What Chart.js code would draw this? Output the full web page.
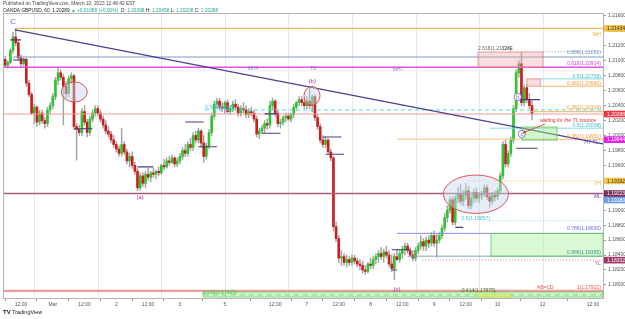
<!DOCTYPE html>
<html>
<head>
<meta charset="utf-8">
<script src="https://cdn.jsdelivr.net/npm/chart.js@4.4.0/dist/chart.umd.min.js"></script>
<style>
  html, body { margin: 0; padding: 0; background: #fff; }
  #wrap { width: 625px; height: 319px; }
</style>
</head>
<body>
<div id="wrap"><canvas id="chart" width="625" height="319"></canvas></div>
<script>
// GBPUSD 1h candles, Feb 28 06:00 .. Mar 10 13:00 (bar index = hourly slot, weekend removed)
const opens = [
  1.2102,1.2094,1.2098,1.2114,1.2132,1.2124,1.2104,1.2096,1.2102,1.2070,
  1.2055,1.2030,1.2038,1.2018,1.2030,1.2020,1.2016,1.2034,1.2040,1.2052,
  1.2074,1.2084,1.2078,1.2066,1.2056,1.2076,1.2080,1.2012,1.2008,1.2004,
  1.2032,1.2018,1.2004,1.2022,1.2030,1.2036,1.2030,1.2022,1.2014,1.2006,
  1.2002,1.1994,1.1988,1.1982,1.1976,1.1988,1.1978,1.1966,1.1972,1.1960,
  1.1952,1.1930,1.1946,1.1936,1.1948,1.1944,1.1950,1.1948,1.1952,1.1950,
  1.1960,1.1958,1.1966,1.1964,1.1970,1.1962,1.1966,1.1972,1.1980,1.1976,
  1.1988,1.1984,1.2000,1.1994,1.2006,1.1990,1.1972,1.1986,1.2004,1.2026,
  1.2042,1.2046,1.2038,1.2036,1.2044,1.2032,1.2036,1.2042,1.2038,1.2030,
  1.2036,1.2034,1.2028,1.2032,1.2030,1.2022,1.2002,1.2006,1.2010,1.2016,
  1.2014,1.2040,1.2046,1.2030,1.2016,1.2018,1.2024,1.2026,1.2022,1.2028,
  1.2038,1.2044,1.2048,1.2044,1.2040,1.2046,1.2040,1.2052,1.2024,1.2012,
  1.1994,1.1988,1.1994,1.1978,1.1970,1.1878,1.1862,1.1836,1.1838,1.1830,
  1.1834,1.1830,1.1836,1.1832,1.1828,1.1826,1.1820,1.1818,1.1828,1.1826,
  1.1834,1.1838,1.1842,1.1838,1.1844,1.1840,1.1828,1.1822,1.1838,1.1834,
  1.1842,1.1848,1.1852,1.1846,1.1840,1.1836,1.1846,1.1852,1.1858,1.1852,
  1.1860,1.1856,1.1866,1.1856,1.1860,1.1866,1.1876,1.1890,1.1900,1.1914,
  1.1884,1.1916,1.1922,1.1912,1.1920,1.1926,1.1906,1.1916,1.1924,1.1916,
  1.1920,1.1922,1.1930,1.1918,1.1912,1.1920,1.1918,1.1926,1.1946,1.1988,
  1.1962,1.1976,1.1994,1.2036,1.2084,1.2096,1.2044,1.2064,1.2048,1.2040
];
const highs = [
  1.2106,1.2100,1.2116,1.2138,1.2143,1.2128,1.2108,1.2104,1.2104,1.2074,
  1.2058,1.2042,1.2040,1.2034,1.2034,1.2024,1.2038,1.2044,1.2056,1.2078,
  1.2090,1.2088,1.2082,1.2072,1.2080,1.2084,1.2082,1.2016,1.2014,1.2036,
  1.2040,1.2022,1.2026,1.2034,1.2040,1.2040,1.2034,1.2026,1.2020,1.2012,
  1.2006,1.2000,1.1992,1.1986,1.2010,1.1992,1.1982,1.1976,1.1978,1.1964,
  1.1956,1.1950,1.1950,1.1952,1.1956,1.1952,1.1956,1.1954,1.1958,1.1962,
  1.1968,1.1970,1.1972,1.1974,1.1972,1.1970,1.1976,1.1984,1.1988,1.1992,
  1.1996,1.2004,1.2006,1.2010,1.2008,1.2000,1.1990,1.2008,1.2030,1.2046,
  1.2050,1.2050,1.2044,1.2046,1.2048,1.2040,1.2046,1.2048,1.2042,1.2040,
  1.2044,1.2040,1.2036,1.2038,1.2034,1.2026,1.2010,1.2014,1.2020,1.2022,
  1.2046,1.2050,1.2048,1.2034,1.2022,1.2026,1.2030,1.2030,1.2030,1.2042,
  1.2046,1.2052,1.2052,1.2050,1.2052,1.2065,1.2054,1.2054,1.2028,1.2016,
  1.2000,1.1998,1.1996,1.1982,1.1972,1.1884,1.1866,1.1846,1.1842,1.1840,
  1.1838,1.1840,1.1840,1.1836,1.1834,1.1832,1.1826,1.1830,1.1836,1.1838,
  1.1842,1.1846,1.1850,1.1848,1.1852,1.1846,1.1840,1.1842,1.1848,1.1846,
  1.1852,1.1856,1.1856,1.1850,1.1846,1.1850,1.1856,1.1866,1.1862,1.1864,
  1.1866,1.1870,1.1872,1.1868,1.1870,1.1880,1.1896,1.1906,1.1918,1.1918,
  1.1920,1.1930,1.1934,1.1926,1.1936,1.1932,1.1920,1.1928,1.1930,1.1924,
  1.1926,1.1934,1.1934,1.1922,1.1924,1.1926,1.1930,1.1950,1.1992,1.1994,
  1.1980,1.1998,1.2040,1.2088,1.2100,1.2111,1.2068,1.2068,1.2056,1.2046
];
const lows = [
  1.2092,1.2090,1.2096,1.2110,1.2120,1.2100,1.2092,1.2094,1.2066,1.2052,
  1.2028,1.2016,1.2012,1.2014,1.2016,1.2010,1.2012,1.2028,1.2036,1.2048,
  1.2068,1.2074,1.2014,1.2050,1.2052,1.2070,1.2008,1.1967,1.2000,1.2000,
  1.2014,1.1998,1.2000,1.2018,1.2026,1.2026,1.2018,1.2010,1.2002,1.1998,
  1.1990,1.1984,1.1978,1.1972,1.1972,1.1974,1.1962,1.1958,1.1956,1.1948,
  1.1926,1.1927,1.1932,1.1930,1.1940,1.1938,1.1944,1.1942,1.1946,1.1948,
  1.1954,1.1956,1.1960,1.1962,1.1958,1.1958,1.1962,1.1968,1.1972,1.1972,
  1.1980,1.1980,1.1990,1.1990,1.1984,1.1964,1.1968,1.1982,1.2000,1.2022,
  1.2036,1.2034,1.2032,1.2030,1.2030,1.2028,1.2032,1.2034,1.2026,1.2026,
  1.2030,1.2024,1.2024,1.2026,1.2018,1.1998,1.1996,1.2002,1.2004,1.2008,
  1.2010,1.2034,1.2026,1.2012,1.2010,1.2014,1.2018,1.2020,1.2018,1.2024,
  1.2034,1.2040,1.2040,1.2036,1.2036,1.2036,1.2032,1.2020,1.2008,1.1990,
  1.1984,1.1984,1.1976,1.1966,1.1872,1.1858,1.1830,1.1826,1.1826,1.1824,
  1.1826,1.1826,1.1828,1.1824,1.1820,1.1816,1.1814,1.1816,1.1822,1.1822,
  1.1828,1.1830,1.1834,1.1830,1.1836,1.1824,1.1818,1.1807,1.1832,1.1830,
  1.1836,1.1840,1.1842,1.1838,1.1832,1.1832,1.1842,1.1848,1.1846,1.1846,
  1.1850,1.1852,1.1852,1.1837,1.1856,1.1862,1.1872,1.1884,1.1896,1.1880,
  1.1880,1.1910,1.1908,1.1906,1.1914,1.1902,1.1902,1.1910,1.1912,1.1910,
  1.1914,1.1918,1.1914,1.1904,1.1908,1.1912,1.1914,1.1922,1.1942,1.1958,
  1.1958,1.1972,1.1990,1.2032,1.2078,1.2040,1.2040,1.2044,1.2036,1.2021
];
const closes = [
  1.2094,1.2098,1.2114,1.2132,1.2124,1.2104,1.2096,1.2102,1.2070,1.2055,
  1.2030,1.2038,1.2018,1.2030,1.2020,1.2016,1.2034,1.2040,1.2052,1.2074,
  1.2084,1.2078,1.2066,1.2056,1.2076,1.2080,1.2012,1.2008,1.2004,1.2032,
  1.2018,1.2004,1.2022,1.2030,1.2036,1.2030,1.2022,1.2014,1.2006,1.2002,
  1.1994,1.1988,1.1982,1.1976,1.1988,1.1978,1.1966,1.1972,1.1960,1.1952,
  1.1930,1.1946,1.1936,1.1948,1.1944,1.1950,1.1948,1.1952,1.1950,1.1960,
  1.1958,1.1966,1.1964,1.1970,1.1962,1.1966,1.1972,1.1980,1.1976,1.1988,
  1.1984,1.2000,1.1994,1.2006,1.1990,1.1972,1.1986,1.2004,1.2026,1.2042,
  1.2046,1.2038,1.2036,1.2044,1.2032,1.2036,1.2042,1.2038,1.2030,1.2036,
  1.2034,1.2028,1.2032,1.2030,1.2022,1.2002,1.2006,1.2010,1.2016,1.2014,
  1.2040,1.2046,1.2030,1.2016,1.2018,1.2024,1.2026,1.2022,1.2028,1.2038,
  1.2044,1.2048,1.2044,1.2040,1.2046,1.2040,1.2052,1.2024,1.2012,1.1994,
  1.1988,1.1994,1.1978,1.1970,1.1878,1.1862,1.1836,1.1838,1.1830,1.1834,
  1.1830,1.1836,1.1832,1.1828,1.1826,1.1820,1.1818,1.1828,1.1826,1.1834,
  1.1838,1.1842,1.1838,1.1844,1.1840,1.1828,1.1822,1.1838,1.1834,1.1842,
  1.1848,1.1852,1.1846,1.1840,1.1836,1.1846,1.1852,1.1858,1.1852,1.1860,
  1.1856,1.1866,1.1856,1.1860,1.1866,1.1876,1.1890,1.1900,1.1914,1.1884,
  1.1916,1.1922,1.1912,1.1920,1.1926,1.1906,1.1916,1.1924,1.1916,1.1920,
  1.1922,1.1930,1.1918,1.1912,1.1920,1.1918,1.1926,1.1946,1.1988,1.1962,
  1.1976,1.1994,1.2036,1.2084,1.2096,1.2044,1.2064,1.2048,1.2040,1.2029
];

// time axis labels (bar index -> text) and session breaks
const xTickIdx = [6, 18, 30, 42, 54, 66, 83, 102, 114, 126, 138, 150, 162, 174, 186, 203, 222];
const xTickText = ["12:00","Mar","12:00","2","12:00","3","5","12:00","7","12:00","8","12:00","9","12:00","10","12","12:00"];
const sessionIdx = [11, 35, 59, 83, 107, 131, 155, 179, 203];

// horizontal levels drawn on the chart
const levelPrice = [1.21434, 1.21051, 1.21123, 1.20914, 1.20758, 1.20660, 1.20342, 1.20319, 1.20288,
                    1.20098, 1.19951, 1.19944, 1.19392, 1.19223, 1.18857, 1.18690, 1.18385, 1.18332,
                    1.17921, 1.17866];
const levelFrom  = [4, 3, 203, -1, 202, 202, 75.5, 198, -1,
                    183, 148, 196, 175, -1, 183, 148, 152, 157.5,
                    -1, 75];

// trend line, pivot segments, arrow
const tlIdx = [3.7, 225.8];
const tlPrice = [1.21413, 1.19888];
const pivFrom  = [2, 3, 26, 50, 68, 73, 98, 97, 120, 121, 146, 146, 170, 193, 194];
const pivTo    = [6, 8, 33, 56, 75, 80, 103, 104, 127, 128, 153, 148, 173, 201, 202];
const pivPrice = [1.2128, 1.2101, 1.2009, 1.1958, 1.2018, 1.1985, 1.2029, 1.2003, 1.1998, 1.1975,
                  1.1847, 1.1820, 1.1877, 1.1983, 1.2048];
const arrowIdx = [204, 195.4];
const arrowPrice = [1.20154, 1.20034];

// boxes: from/to bar index, top/bottom price
const boxFrom = [178.6, 197, 195.2, 183.5, 74.7, 178.6];
const boxTo = [203.1, 202.1, 208.4, 225.8, 225.8, 190.7];
const boxTop = [1.21118, 1.20758, 1.20114, 1.18690, 1.17905, 1.17878];
const boxBottom = [1.20914, 1.20660, 1.19940, 1.18385, 1.17838, 1.17838];

// ellipses (centre) and circled wave marks
const ellIdx = [26.1, 115.9, 177.8];
const ellPrice = [1.20583, 1.20532, 1.19214];
const circIdx = [193.6, 195.1];
const circPrice = [1.20516, 1.20020];
const circText = ["b", "c"];

// text notes
const noteText = ["C", "(a)", "(b)", "(c)", "MH4", "TO", "MH7", "2.618(1.21123)", "D=E",
  "waiting for the TL bounce", "0.5(1.20342)", "0.886(1.21051)", "0.618(1.20914)", "0.5(1.20758)",
  "0.382(1.20660)", "0.382(1.20319)", "0.5(1.20098)", "0.382(1.19951)", "HT TL", "WH", "YH", "WL",
  "0.5(1.18857)", "0.786(1.18690)", "0.886(1.18385)", "YL", "AB=CD", "1(1.17921)",
  "1.618(1.17905)", "-0.414(1.17875)"];
const noteIdx = [3, 51, 116, 148, 93.6, 116.3, 148.4, 178.6, 189.9,
  202, 75.5, 225, 225, 225, 225, 225, 225, 225, 224, 225, 225, 225,
  183.1, 225, 225, 225, 204, 225, 74.7, 171.8];
const notePrice = [1.2152, 1.1917, 1.2072, 1.1794, 1.2089, 1.2090, 1.2088, 1.21158, 1.21158,
  1.20194, 1.20368, 1.21105, 1.20957, 1.20783, 1.20690, 1.20368, 1.20127, 1.19984, 1.19900,
  1.21346, 1.19351, 1.19177, 1.18883, 1.18749, 1.18427, 1.18280, 1.17959, 1.17959,
  1.17892, 1.17919];

// price tags on the right axis
const tagPrice = [1.21434, 1.20288, 1.19944, 1.19392, 1.19223, 1.19180, 1.18332];

// ---------- styles ----------
const FONT = '"Liberation Sans", Arial, sans-serif';
const levelLook = [
  ['#f3ad3d', 1, []], ['#7a9cc6', 1, []], ['#9a9a9a', 1, [1, 2]], ['#e84ee8', 1.4, []],
  ['#8ad8e4', 1, []], ['#f5b867', 1, []], ['#4fd7ea', 1, [4, 3]], ['#f5b867', 1, []],
  ['#f59a9a', 1, []], ['#8ad8e4', 1, []], ['#f5c27a', 1, []], ['#e84ee8', 1, [1, 2]],
  ['#f0c040', 1, [1, 2]], ['#a8607e', 1.4, []], ['#6fe0ef', 1, [1, 2]], ['#8a8ef0', 1, []],
  ['#7aa6b8', 1, []], ['#d889a8', 1, [1, 2]], ['#f59a9a', 2.4, []], ['#3cb043', 1, [5, 4]]
];
const boxLook = [
  ['rgba(240,160,160,0.35)', 'rgba(225,120,120,0.7)'],
  ['rgba(240,160,160,0.35)', 'rgba(225,120,120,0.7)'],
  ['rgba(150,235,140,0.45)', 'rgba(90,200,90,0.8)'],
  ['rgba(170,240,160,0.45)', 'rgba(90,200,90,0.8)'],
  ['rgba(170,240,160,0.55)', 'rgba(90,200,90,0.7)'],
  ['rgba(225,240,110,0.7)', 'rgba(200,220,80,0.8)']
];
const ellLook = [[13, 10], [8, 9.3], [32.5, 19.2]];
// colour, size, align, italic
const noteLook = [
  ['#5b6bd6', 8, 'center'], ['#b02ab0', 6, 'center'], ['#b02ab0', 6, 'center'], ['#b02ab0', 6, 'center'],
  ['#8a7ad8', 5, 'center'], ['#8a7ad8', 5, 'center'], ['#8a7ad8', 5, 'center'],
  ['#666', 5, 'left'], ['#666', 5, 'center'],
  ['#e03030', 5, 'left', true], ['#3cc4d8', 5, 'left'],
  ['#6a8fc0', 5, 'right'], ['#e040e0', 5, 'right'], ['#3cc4d8', 5, 'right'],
  ['#f0a030', 5, 'right'], ['#f0a030', 5, 'right'], ['#3cc4d8', 5, 'right'], ['#f0a030', 5, 'right'],
  ['#6a5acd', 5, 'right'], ['#e8b030', 5, 'right'], ['#e8b030', 5, 'right'], ['#7a4a9a', 5, 'right'],
  ['#3cc4d8', 5, 'right'], ['#6a70e0', 5, 'right'], ['#3fa08a', 5, 'right'], ['#b05080', 5, 'right'],
  ['#f05050', 5, 'center'], ['#f05050', 5, 'right'], ['#5cc05c', 5, 'left'], ['#3a7a3a', 5, 'left']
];
const tagLook = [
  ['#f5c143', '#333'], ['#f23645', '#fff'], ['#e91ee9', '#fff'], ['#f5c84c', '#333'],
  ['#7b2d5a', '#fff'], ['#6d9be8', '#fff'], ['#9b3665', '#fff']
];

const xMin = -0.8, xMax = 225.8, yMin = 1.17825, yMax = 1.2164;

// ---------- datasets ----------
const wickData = highs.map((h, i) => ({ x: i, y: [lows[i], h] }));
const bodyData = opens.map((o, i) => ({ x: i, y: [o, closes[i]] }));
const bodyColors = opens.map((o, i) => closes[i] >= o ? '#2fc42f' : '#cc1e1e');

const levelSets = levelPrice.map((p, k) => ({
  type: 'line',
  data: [{ x: levelFrom[k], y: p }, { x: xMax, y: p }],
  borderColor: levelLook[k][0], borderWidth: levelLook[k][1], borderDash: levelLook[k][2],
  pointRadius: 0, order: 3
}));

const pivData = [];
pivFrom.forEach((a, k) => {
  pivData.push({ x: a, y: pivPrice[k] }, { x: pivTo[k], y: pivPrice[k] }, { x: pivTo[k], y: null });
});

const datasets = [
  { type: 'line', data: [{ x: tlIdx[0], y: tlPrice[0] }, { x: tlIdx[1], y: tlPrice[1] }],
    borderColor: '#4b3f8f', borderWidth: 1.2, pointRadius: 0, order: 1 },
  { type: 'line', data: pivData, borderColor: '#4a3a80', borderWidth: 1.1, pointRadius: 0,
    spanGaps: false, order: 1 },
  ...levelSets,
  { type: 'bar', data: bodyData, backgroundColor: bodyColors, barThickness: 2, minBarLength: 1,
    grouped: false, order: 8 },
  { type: 'bar', data: wickData, backgroundColor: '#a3a3a3', barThickness: 0.8,
    grouped: false, order: 9 }
];

// ---------- drawing helpers ----------
const X = (c, v) => c.scales.x.getPixelForValue(v);
const Y = (c, v) => c.scales.y.getPixelForValue(v);

const overlay = {
  id: 'overlay',
  beforeDatasetsDraw(c) {
    const ctx = c.ctx, a = c.chartArea;
    ctx.save();
    ctx.strokeStyle = '#e2e9f4';
    ctx.lineWidth = 1;
    sessionIdx.forEach(i => {
      const x = Math.round(X(c, i)) + 0.5;
      ctx.beginPath(); ctx.moveTo(x, a.top); ctx.lineTo(x, a.bottom); ctx.stroke();
    });
    ctx.restore();
  },
  afterDatasetsDraw(c) {
    const ctx = c.ctx, a = c.chartArea;
    ctx.save();
    ctx.beginPath(); ctx.rect(a.left, a.top, a.right - a.left, a.bottom - a.top); ctx.clip();

    boxFrom.forEach((f, k) => {
      const x0 = X(c, f), x1 = X(c, boxTo[k]), y0 = Y(c, boxTop[k]), y1 = Y(c, boxBottom[k]);
      ctx.fillStyle = boxLook[k][0];
      ctx.fillRect(x0, y0, x1 - x0, y1 - y0);
      ctx.strokeStyle = boxLook[k][1]; ctx.lineWidth = 1;
      ctx.strokeRect(x0, y0, x1 - x0, y1 - y0);
    });

    ellIdx.forEach((e, k) => {
      ctx.beginPath();
      ctx.ellipse(X(c, e), Y(c, ellPrice[k]), ellLook[k][0], ellLook[k][1], 0, 0, Math.PI * 2);
      ctx.fillStyle = 'rgba(200,215,240,0.45)'; ctx.fill();
      ctx.strokeStyle = '#e25555'; ctx.lineWidth = 1; ctx.stroke();
    });

    circIdx.forEach((e, k) => {
      const x = X(c, e), y = Y(c, circPrice[k]);
      ctx.beginPath(); ctx.arc(x, y, 3.6, 0, Math.PI * 2);
      ctx.fillStyle = '#fff'; ctx.fill();
      ctx.strokeStyle = '#5566c8'; ctx.lineWidth = 0.8; ctx.stroke();
      ctx.fillStyle = '#5566c8'; ctx.font = '5px ' + FONT;
      ctx.textAlign = 'center'; ctx.textBaseline = 'middle';
      ctx.fillText(circText[k], x, y + 0.3);
    });

    // arrow
    const ax0 = X(c, arrowIdx[0]), ay0 = Y(c, arrowPrice[0]);
    const ax1 = X(c, arrowIdx[1]), ay1 = Y(c, arrowPrice[1]);
    ctx.strokeStyle = '#e03030'; ctx.fillStyle = '#e03030'; ctx.lineWidth = 0.8;
    ctx.beginPath(); ctx.moveTo(ax0, ay0); ctx.lineTo(ax1, ay1); ctx.stroke();
    const ang = Math.atan2(ay1 - ay0, ax1 - ax0);
    ctx.beginPath();
    ctx.moveTo(ax1, ay1);
    ctx.lineTo(ax1 - 3.5 * Math.cos(ang - 0.45), ay1 - 3.5 * Math.sin(ang - 0.45));
    ctx.lineTo(ax1 - 3.5 * Math.cos(ang + 0.45), ay1 - 3.5 * Math.sin(ang + 0.45));
    ctx.closePath(); ctx.fill();

    noteText.forEach((t, k) => {
      const [col, size, align, ital] = noteLook[k];
      ctx.font = (ital ? 'italic ' : '') + size + 'px ' + FONT;
      ctx.fillStyle = col; ctx.textAlign = align; ctx.textBaseline = 'middle';
      ctx.fillText(t, X(c, noteIdx[k]), Y(c, notePrice[k]));
    });
    ctx.restore();

    // plot frame
    ctx.save();
    ctx.strokeStyle = '#b4b4b4'; ctx.lineWidth = 1;
    ctx.strokeRect(Math.round(a.left) + 0.5, Math.round(a.top) + 0.5,
      Math.round(a.right - a.left), Math.round(a.bottom - a.top));
    ctx.restore();
  },
  afterDraw(c) {
    const ctx = c.ctx, a = c.chartArea;
    ctx.save();
    // price tags, pushed apart when they would overlap
    const order = tagPrice.map((p, k) => k).sort((i, j) => tagPrice[j] - tagPrice[i]);
    let last = -99;
    ctx.font = '5px ' + FONT; ctx.textBaseline = 'middle'; ctx.textAlign = 'left';
    order.forEach(k => {
      let y = Y(c, tagPrice[k]);
      if (y - last < 6.5) y = last + 6.5;
      last = y;
      ctx.fillStyle = tagLook[k][0];
      ctx.fillRect(a.right + 1, y - 3.3, 21, 6.6);
      ctx.fillStyle = tagLook[k][1];
      ctx.fillText(tagPrice[k].toFixed(5), a.right + 4, y + 0.2);
    });

    // header
    ctx.textBaseline = 'middle'; ctx.textAlign = 'left';
    ctx.font = '4.8px ' + FONT; ctx.fillStyle = '#444';
    ctx.fillText('Published on TradingView.com, March 10, 2023 12:48:42 EST', 3, 4);
    const parts = [
      ['OANDA:GBPUSD, 60  ', '#222'], ['1.20289 ', '#222'], ['\u25B2 +0.01088 (+0.90%)  ', '#26a69a'],
      ['O: ', '#222'], ['1.20398 ', '#26a69a'], ['H: ', '#222'], ['1.20458 ', '#26a69a'],
      ['L: ', '#222'], ['1.20208 ', '#26a69a'], ['C: ', '#222'], ['1.20288', '#26a69a']
    ];
    let x = 3;
    parts.forEach(([t, col]) => {
      ctx.fillStyle = col; ctx.fillText(t, x, 10.5);
      x += ctx.measureText(t).width;
    });

    // footer logo
    ctx.font = 'bold 6px ' + FONT; ctx.fillStyle = '#131722';
    ctx.fillText('TV', 3, 312);
    ctx.font = '5.5px ' + FONT;
    ctx.fillText('TradingView', 12, 312);
    ctx.restore();
  }
};

new Chart(document.getElementById('chart'), {
  type: 'bar',
  data: { datasets },
  options: {
    responsive: false,
    animation: false,
    devicePixelRatio: 1,
    layout: { padding: { top: 13, left: 3, right: 0, bottom: 0 } },
    plugins: { legend: { display: false }, tooltip: { enabled: false } },
    scales: {
      x: {
        type: 'linear', min: xMin, max: xMax, offset: false,
        grid: { drawOnChartArea: false, drawTicks: true, tickLength: 3, color: '#9a9a9a' },
        border: { display: true, color: '#9a9a9a' },
        afterBuildTicks: s => { s.ticks = xTickIdx.map(v => ({ value: v })); },
        afterFit: s => { s.height = 21; },
        ticks: {
          autoSkip: false, maxRotation: 0, padding: 1, color: '#555',
          font: { size: 5, family: FONT },
          callback: v => xTickText[xTickIdx.indexOf(v)]
        }
      },
      y: {
        type: 'linear', position: 'right', min: yMin, max: yMax,
        grid: { drawOnChartArea: false, drawTicks: true, tickLength: 3, color: '#9a9a9a' },
        border: { display: true, color: '#9a9a9a' },
        afterFit: s => { s.width = 22; },
        ticks: {
          stepSize: 0.002, includeBounds: false, padding: 2, color: '#555',
          font: { size: 5, family: FONT },
          callback: v => v.toFixed(5)
        }
      }
    }
  },
  plugins: [overlay]
});
</script>
</body>
</html>
